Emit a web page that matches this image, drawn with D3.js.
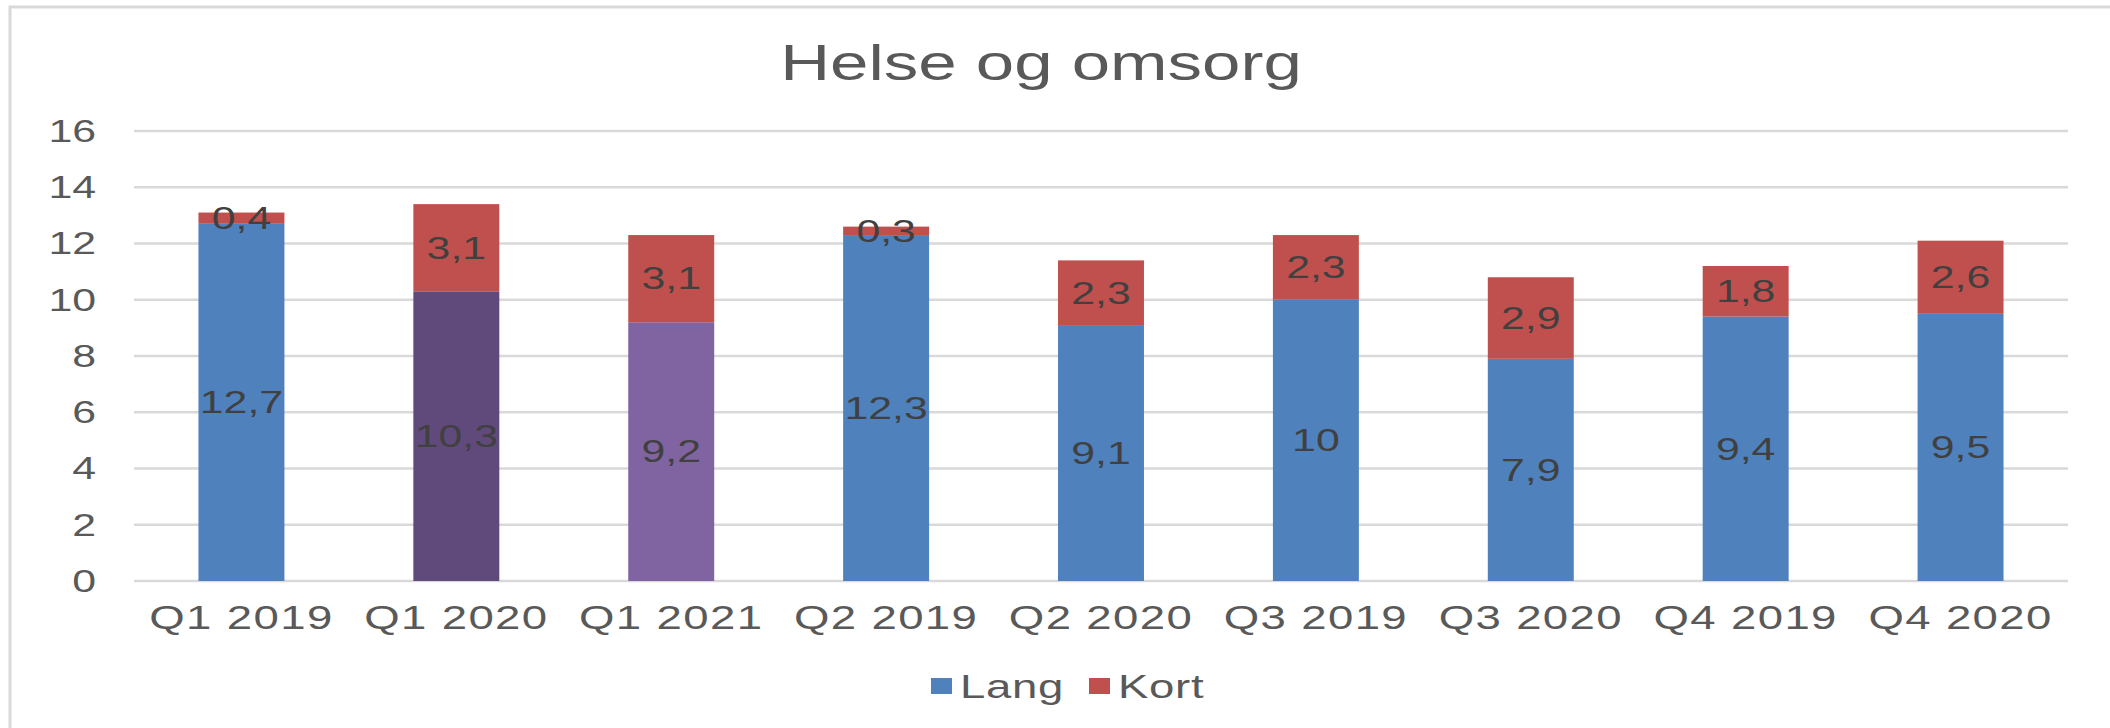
<!DOCTYPE html>
<html>
<head>
<meta charset="utf-8">
<script src="https://cdn.jsdelivr.net/npm/d3@7"></script>
<style>
    html, body { margin: 0; padding: 0; background: #fff; }
    svg text { font-family: "Liberation Sans", Arial, sans-serif; }
</style>
</head>
<body>
<div id="chart"></div>
<script>
// Chart data
const categories = ["Q1 2019", "Q1 2020", "Q1 2021", "Q2 2019", "Q2 2020", "Q3 2019", "Q3 2020", "Q4 2019", "Q4 2020"];
const lang = [12.7, 10.3, 9.2, 12.3, 9.1, 10, 7.9, 9.4, 9.5];
const kort = [0.4, 3.1, 3.1, 0.3, 2.3, 2.3, 2.9, 1.8, 2.6];
const yTicks = [0, 2, 4, 6, 8, 10, 12, 14, 16];
const seriesNames = ["Lang", "Kort"];
const seriesColors = ["#4f81bd", "#c0504d"];
// Single points that Excel coloured differently
const pointColors = { "Q1 2020": "#604a7b", "Q1 2021": "#8064a2" };

const width = 2110;
const height = 728;
const plot = { left: 134, right: 2068, top: 131, bottom: 581 };
const stretch = 1.38;

const svg = d3.select("#chart")
    .append("svg")
    .attr("width", width)
    .attr("height", height);

// Outer frame
svg.append("rect")
    .attr("x", 10)
    .attr("y", 7)
    .attr("width", 2300)
    .attr("height", 900)
    .attr("fill", "none")
    .attr("stroke", "#d9d9d9")
    .attr("stroke-width", 3);

// Text helper, the picture is stretched horizontally
const addText = (g, x, y, txt, size, anchor, fill, spacing = 0) => g.append("text")
    .attr("transform", `translate(${x},${y}) scale(${stretch},1)`)
    .attr("text-anchor", anchor)
    .attr("dominant-baseline", "central")
    .attr("font-size", size)
    .attr("letter-spacing", spacing)
    .attr("fill", fill)
    .text(txt);

// Title
addText(svg, (plot.left + plot.right) / 2 - 60, 63, "Helse og omsorg", 50, "middle", "#595959");

// Scales
const x = d3.scaleBand()
    .domain(categories)
    .range([plot.left, plot.right])
    .paddingInner(0.6)
    .paddingOuter(0.3);

const y = d3.scaleLinear()
    .domain([0, 16])
    .range([plot.bottom, plot.top]);

// Gridlines
svg.append("g")
    .selectAll("line")
    .data(yTicks)
    .join("line")
    .attr("x1", plot.left)
    .attr("x2", plot.right)
    .attr("y1", d => y(d))
    .attr("y2", d => y(d))
    .attr("stroke", "#d9d9d9")
    .attr("stroke-width", 2.5);

// Y axis labels
const yAxis = svg.append("g").attr("class", "y-axis");
yTicks.forEach(t => addText(yAxis, 96, y(t), t, 31, "end", "#595959"));

// X axis labels
const xAxis = svg.append("g").attr("class", "x-axis");
categories.forEach(c => addText(xAxis, x(c) + x.bandwidth() / 2, 617, c, 33, "middle", "#595959", 1));

// Stack data
const data = categories.map((c, i) => ({ cat: c, Lang: lang[i], Kort: kort[i] }));
const stacked = d3.stack().keys(seriesNames)(data);
const fmt = v => String(v).replace(".", ",");

const bars = svg.append("g");
stacked.forEach((layer, si) => {
    bars.append("g")
        .selectAll("rect")
        .data(layer)
        .join("rect")
        .attr("x", d => x(d.data.cat))
        .attr("y", d => y(d[1]))
        .attr("width", x.bandwidth())
        .attr("height", d => y(d[0]) - y(d[1]))
        .attr("fill", d => (si === 0 && pointColors[d.data.cat]) || seriesColors[si]);
});

// Data labels, centred in each segment
const labels = svg.append("g");
stacked.forEach((layer, si) => {
    layer.forEach(d => {
        addText(labels, x(d.data.cat) + x.bandwidth() / 2, y((d[0] + d[1]) / 2), fmt(d.data[seriesNames[si]]), 31, "middle", "#404040");
    });
});

// Legend
const legend = svg.append("g");
const legendX = [931, 1089];
seriesNames.forEach((name, i) => {
    legend.append("rect")
        .attr("x", legendX[i])
        .attr("y", 678)
        .attr("width", 21)
        .attr("height", 16)
        .attr("fill", seriesColors[i]);
    addText(legend, legendX[i] + 29, 686, name, 33, "start", "#595959", 0.5);
});
</script>
</body>
</html>
